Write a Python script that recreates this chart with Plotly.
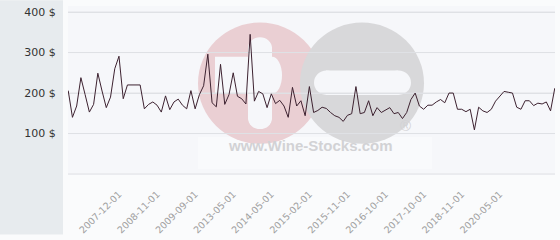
import plotly.graph_objects as go

prices = [206, 140, 168, 238, 196, 153, 172, 249, 205, 164,
          190, 260, 291, 186, 220, 220, 219, 220, 161, 172,
          178, 170, 153, 193, 159, 178, 185, 170, 161, 206,
          161, 196, 218, 296, 176, 166, 271, 172, 196, 250,
          192, 186, 173, 345, 180, 204, 198, 164, 198, 174,
          182, 168, 140, 214, 168, 181, 144, 216, 152, 157,
          165, 162, 152, 144, 140, 130, 145, 149, 216, 149,
          152, 181, 144, 164, 152, 158, 164, 149, 152, 137,
          152, 184, 200, 168, 160, 170, 170, 178, 184, 176,
          200, 200, 160, 160, 154, 160, 109, 165, 156, 152,
          160, 180, 192, 204, 202, 200, 165, 160, 181, 181,
          169, 175, 173, 178, 156, 212]
points = list(range(len(prices)))

tick_points = [12, 21, 30, 39, 48, 57, 66, 75, 84, 93, 102]
tick_labels = ["2007-12-01", "2008-11-01", "2009-09-01", "2013-05-01",
               "2014-05-01", "2015-02-01", "2015-11-01", "2016-10-01",
               "2017-10-01", "2018-11-01", "2020-05-01"]
y_ticks = [0, 100, 200, 300, 400]
y_labels = ["", "100 $", "200 $", "300 $", "400 $"]

W, H = 560, 240
L, R, T, B = 68, 5, 6, 61
PW, PH = W - L - R, H - T - B
BG = "#f6f7fa"


def px(x):
    return (x - L) / PW


def py(y):
    return (H - B - y) / PH


fig = go.Figure()
fig.add_trace(go.Scatter(x=points, y=prices, mode="lines",
                         line=dict(color="#3d2230", width=1),
                         hoverinfo="skip", showlegend=False))


def rect(x0, x1, y0, y1, color):
    return dict(type="rect", xref="paper", yref="paper",
                x0=px(x0), x1=px(x1), y0=py(y1), y1=py(y0),
                fillcolor=color, line=dict(width=0), layer="below")


def circ(x0, x1, y0, y1, color):
    return dict(type="circle", xref="paper", yref="paper",
                x0=px(x0), x1=px(x1), y0=py(y1), y1=py(y0),
                fillcolor=color, line=dict(width=0), layer="below")


shapes = []
# left gray panel
shapes.append(rect(0, 63, 0, 240, "#e7ebee"))
# faint white rect behind watermark text
shapes.append(rect(198, 432, 140, 173, "rgba(255,255,255,0.35)"))
# pink circle with white cross
shapes.append(circ(198, 322, 23, 147, "#eacfd3"))
shapes.append(rect(215, 270, 58, 96, BG))
shapes.append(circ(262, 282, 58, 96, BG))
shapes.append(rect(248, 272, 48, 122, BG))
shapes.append(circ(248, 272, 38, 60, BG))
shapes.append(circ(248, 272, 110, 132, BG))
# gray circle with white bar
shapes.append(circ(300, 424, 23, 147, "#d8d8da"))
shapes.append(rect(326, 398, 72, 97, BG))
shapes.append(circ(314, 339, 72, 97, BG))
shapes.append(circ(386, 411, 72, 97, BG))
# gridlines drawn over the watermark
for v in y_ticks:
    shapes.append(dict(type="line", xref="paper", yref="y", x0=0, x1=1,
                       y0=v, y1=v, line=dict(color="#dfe1e5", width=1),
                       layer="below"))

annotations = [
    dict(text="<b>www.Wine-Stocks.com</b>", xref="paper", yref="paper",
         x=px(310), y=py(160), showarrow=False,
         font=dict(family="Liberation Sans, Arial", size=15, color="#d2d2d5")),
    dict(text="®", xref="paper", yref="paper", x=px(413), y=py(139),
         showarrow=False, font=dict(family="Liberation Sans, Arial", size=15, color="#d2d2d5")),
]

fig.update_layout(
    width=W, height=H,
    margin=dict(l=L, r=R, t=T, b=B, pad=0),
    paper_bgcolor="#fafbfc",
    plot_bgcolor=BG,
    shapes=shapes,
    annotations=annotations,
    font=dict(family="DejaVu Sans, Verdana, sans-serif"),
    xaxis=dict(range=[-0.05, len(prices) - 1 + 0.05], tickmode="array",
               tickvals=tick_points, ticktext=tick_labels, tickangle=-45,
               showgrid=False, zeroline=False, showline=False,
               tickfont=dict(size=9.5, color="#a0a0a0"),
               ticks="outside", ticklen=9, tickcolor="rgba(0,0,0,0)"),
    yaxis=dict(range=[-2.4, 415], tickmode="array", tickvals=y_ticks,
               ticktext=y_labels, showgrid=True, gridcolor="#dfe1e5",
               gridwidth=1, zeroline=False, showline=False,
               tickfont=dict(size=11, color="#333333"),
               ticks="outside", ticklen=9, tickcolor="rgba(0,0,0,0)"),
)

fig.write_html("out.html")
